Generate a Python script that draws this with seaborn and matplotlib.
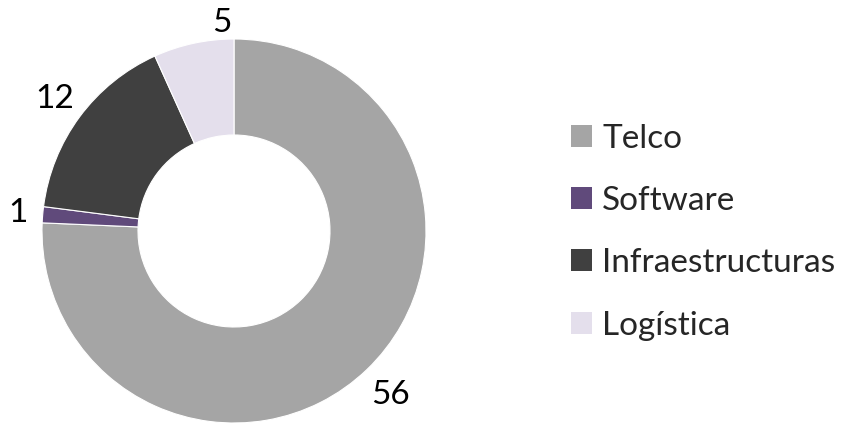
import numpy as np
import pandas as pd
import seaborn as sns
import matplotlib.pyplot as plt
from matplotlib.patches import Patch

sectors = ["Telco", "Software", "Infraestructuras", "Logística"]
counts = [56, 1, 12, 5]
colors = ["#A5A5A5", "#604A7B", "#404040", "#E4DFEC"]

sns.set_theme(style="white")
plt.rcParams['font.family'] = ['Lato', 'DejaVu Sans']

df = pd.DataFrame({"sector": sectors, "count": counts})
pal = sns.color_palette(colors)

fig = plt.figure(figsize=(8.45, 4.23), dpi=100)
ax = fig.add_axes([42 / 845, 0 / 423, 384 / 845, 384 / 423])

wedges, _ = ax.pie(df["count"], colors=pal, startangle=90, counterclock=False,
                   radius=1, wedgeprops=dict(width=0.5, edgecolor="white", linewidth=0.8))
ax.set_xlim(-1, 1)
ax.set_ylim(-1, 1)
ax.set_aspect("equal")
ax.axis("off")

# value labels just outside each wedge
dist = [1.18, 1.13, 1.16, 1.11]
nudge = [0, 0, 0, 0.17]
for w, v, d, n in zip(wedges, df["count"], dist, nudge):
    mid = np.deg2rad((w.theta1 + w.theta2) / 2)
    ax.text(d * np.cos(mid) + n, d * np.sin(mid), str(v), ha="center", va="center",
            fontsize=24, color="#000000")

handles = [Patch(facecolor=c, edgecolor="none") for c in pal]
fig.legend(handles, sectors, loc="center left", bbox_to_anchor=(571 / 845, 1 - 232 / 423),
           frameon=False, fontsize=24, handlelength=0.64, handleheight=0.64,
           handletextpad=0.3, labelspacing=0.97, borderpad=0, borderaxespad=0)

fig.savefig("out.png", dpi=100)
